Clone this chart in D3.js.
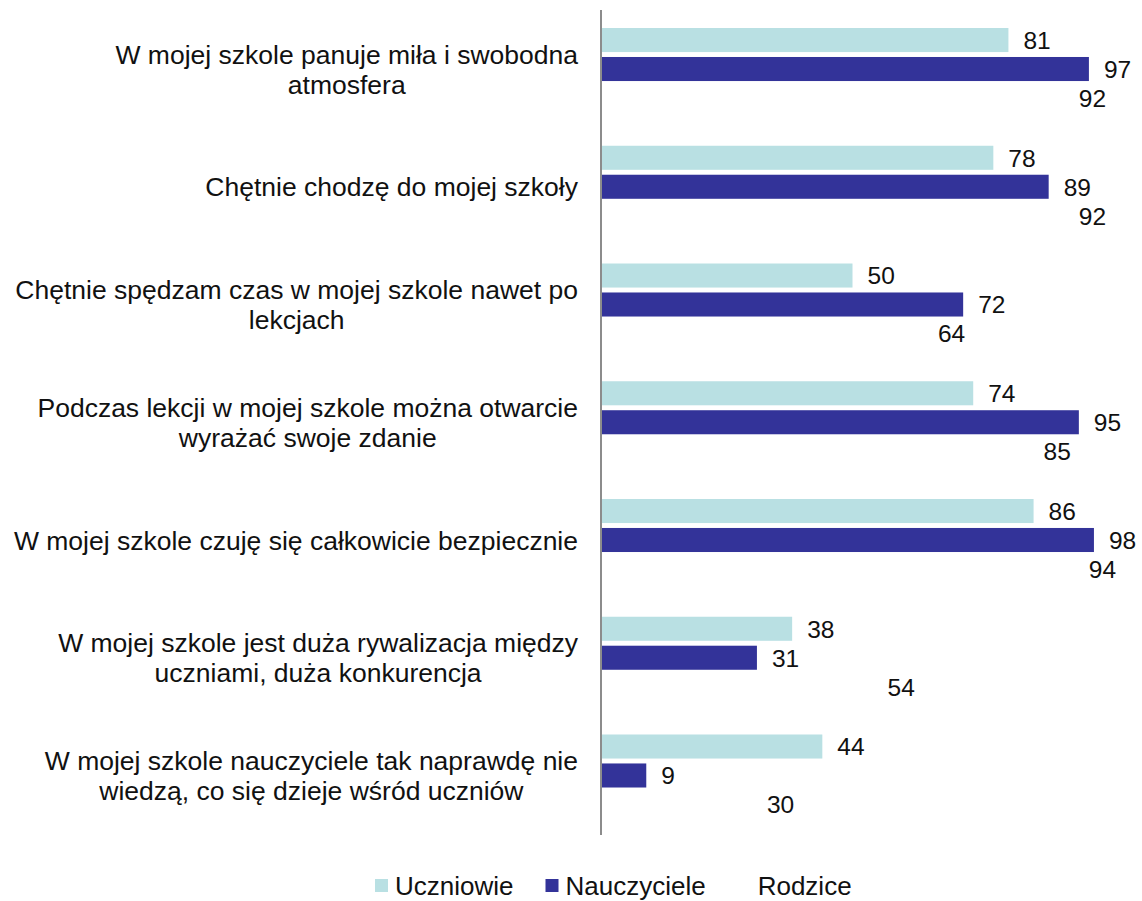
<!DOCTYPE html>
<html>
<head>
<meta charset="utf-8">
<script src="https://cdn.jsdelivr.net/npm/d3@7"></script>
<style>
  body { margin: 0; background: #fff; }
  svg text { font-family: "Liberation Sans", Arial, sans-serif; fill: #111; }
</style>
</head>
<body>
<div id="chart"></div>
<script>
var width = 1142, height = 901;

// category labels, already broken into lines like the original
var categories = [
  ["W mojej szkole panuje miła i swobodna", "atmosfera"],
  ["Chętnie chodzę do mojej szkoły"],
  ["Chętnie spędzam czas w mojej szkole nawet po", "lekcjach"],
  ["Podczas lekcji w mojej szkole można otwarcie", "wyrażać swoje zdanie"],
  ["W mojej szkole czuję się całkowicie bezpiecznie"],
  ["W mojej szkole jest duża rywalizacja między", "uczniami, duża konkurencja"],
  ["W mojej szkole nauczyciele tak naprawdę nie", "wiedzą, co się dzieje wśród uczniów"]
];
var seriesNames = ["Uczniowie", "Nauczyciele", "Rodzice"];
var uczniowie   = [81, 78, 50, 74, 86, 38, 44];
var nauczyciele = [97, 89, 72, 95, 98, 31, 9];
var rodzice     = [92, 92, 64, 85, 94, 54, 30];
var colors = ["#b9e0e3", "#333399", "#ffffff"];

var values = [uczniowie, nauczyciele, rodzice];
var catKeys = categories.map(function(d, i) { return "c" + i; });

var svg = d3.select("#chart").append("svg")
  .attr("width", width)
  .attr("height", height);

var x = d3.scaleLinear().domain([0, 100]).range([601, 1104]);

var y0 = d3.scaleBand()
  .domain(catKeys)
  .range([10, 834.5])
  .paddingInner(0.3036)
  .paddingOuter(0.153);

var y1 = d3.scaleBand()
  .domain(seriesNames)
  .range([0, y0.bandwidth()])
  .paddingInner(0.17);

var groups = svg.append("g").selectAll("g.group")
  .data(catKeys)
  .enter().append("g")
  .attr("class", "group")
  .attr("transform", function(d) { return "translate(0," + y0(d) + ")"; });

groups.each(function(key, ci) {
  var g = d3.select(this);
  var rows = seriesNames.map(function(s, si) {
    return { series: s, value: values[si][ci], color: colors[si] };
  });

  g.selectAll("rect")
    .data(rows)
    .enter().append("rect")
    .attr("x", x(0))
    .attr("y", function(d) { return y1(d.series); })
    .attr("width", function(d) { return x(d.value) - x(0); })
    .attr("height", y1.bandwidth())
    .attr("fill", function(d) { return d.color; });

  g.selectAll("text.val")
    .data(rows)
    .enter().append("text")
    .attr("class", "val")
    .attr("x", function(d) { return x(d.value) + 15; })
    .attr("y", function(d) { return y1(d.series) + y1.bandwidth() / 2; })
    .attr("dy", "0.36em")
    .style("font-size", "24.5px")
    .text(function(d) { return d.value; });
});

// category labels (centred lines, block right-aligned to the axis)
var lineH = 30;
var labels = svg.append("g").selectAll("g.cat")
  .data(categories)
  .enter().append("g")
  .attr("class", "cat");

labels.each(function(lines, i) {
  var g = d3.select(this);
  var cy = y0(catKeys[i]) + y0.bandwidth() / 2;
  var t = g.selectAll("text")
    .data(lines)
    .enter().append("text")
    .style("font-size", "26.5px")
    .attr("y", function(d, j) { return cy + (j - (lines.length - 1) / 2) * lineH; })
    .attr("dy", "0.36em")
    .text(function(d) { return d; });
  var maxW = 0;
  t.each(function() { maxW = Math.max(maxW, this.getComputedTextLength()); });
  var center = 578 - maxW / 2;
  t.attr("x", center).attr("text-anchor", "middle");
});

// vertical axis line
svg.append("line")
  .attr("x1", x(0)).attr("x2", x(0))
  .attr("y1", 10).attr("y2", 835)
  .attr("stroke", "#8c8c8c")
  .attr("stroke-width", 2);

// legend
var legend = svg.append("g");
var lx = 375, ly = 886;
seriesNames.forEach(function(s, i) {
  legend.append("rect")
    .attr("x", lx).attr("y", ly - 7)
    .attr("width", 13).attr("height", 13)
    .attr("fill", colors[i]);
  var t = legend.append("text")
    .attr("x", lx + 20).attr("y", ly)
    .attr("dy", "0.36em")
    .style("font-size", "26px")
    .text(s);
  lx = lx + 20 + t.node().getComputedTextLength() + 32;
});
</script>
</body>
</html>
